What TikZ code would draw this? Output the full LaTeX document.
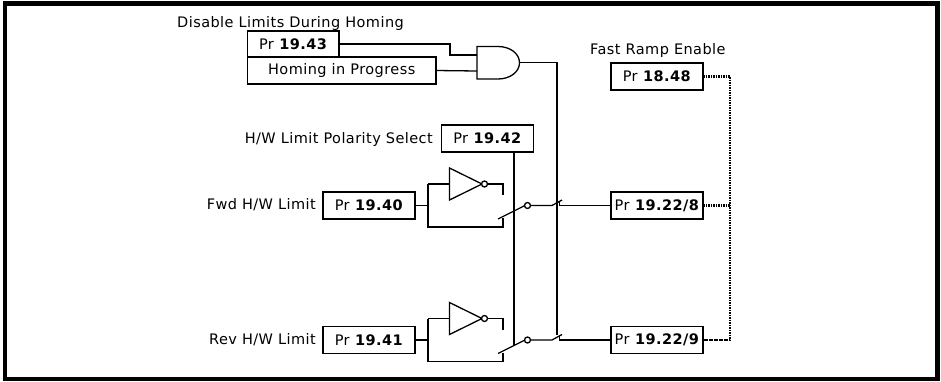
\documentclass[tikz,border=0pt]{standalone}
\usepackage{fontspec}
\setmainfont[LetterSpace=3]{DejaVu Sans}
\tikzset{
  wire/.style={draw=black,line width=1.3pt},
  prbox/.style={draw=black,line width=1.3pt,fill=white,minimum width=92pt,minimum height=27pt,inner sep=0pt,outer sep=0pt,font=\fontsize{14.5}{16}\selectfont,anchor=north west},
  lbl/.style={inner sep=0pt,font=\fontsize{14.5}{16}\selectfont},
  dotw/.style={draw=black,line width=2.6pt,dash pattern=on 1.6pt off 0.9pt},
  bub/.style={draw=black,line width=1.3pt,fill=white,circle,minimum size=6pt,inner sep=0pt,outer sep=0pt}
}
\begin{document}
\begin{tikzpicture}[x=1pt,y=-1pt]
\useasboundingbox (0,0) rectangle (941,381);
\fill[white] (0,0) rectangle (941,381);
\draw[line width=4.5pt] (5,3.5) rectangle (937.5,379);
% labels
\node[lbl,anchor=west] at (177,23) {Disable Limits During Homing};
\node[lbl,anchor=east] at (433,139) {H/W Limit Polarity Select};
\node[lbl,anchor=east] at (316,205) {Fwd H/W Limit};
\node[lbl,anchor=east] at (316,339.5) {Rev H/W Limit};
\node[lbl,anchor=west] at (590,50) {Fast Ramp Enable};
% boxes
\node[prbox,minimum width=91.5pt,minimum height=26pt] (p43) at (247.5,31) {Pr \textbf{19.43}};
\node[prbox,minimum width=188.5pt] (hip) at (247.5,57) {Homing in Progress};
\node[prbox] (p42) at (441.5,125) {Pr \textbf{19.42}};
\node[prbox] (p40) at (323,192) {Pr \textbf{19.40}};
\node[prbox] (p41) at (323,326.5) {Pr \textbf{19.41}};
\node[prbox] (p48) at (611,63) {Pr \textbf{18.48}};
\node[prbox] (p8) at (611,192) {Pr \textbf{19.22/8}};
\node[prbox] (p9) at (611,326.5) {Pr \textbf{19.22/9}};
% AND gate
\draw[wire,fill=white] (477,46.5) -- (498,46.5) .. controls (510,46.5) and (519.5,53.5) .. (519.5,62.75) .. controls (519.5,72) and (510,79) .. (498,79) -- (477,79) -- cycle;
\coordinate (andout) at (519.5,62.5);
\draw[wire] (p43.east) -- (450,44) |- (477,55);
\draw[wire] (hip.east) -- (477,71);
\draw[wire] (andout) -- (557,62.5) -- (557,335);
\coordinate (pol) at (514,152);
\coordinate (polend) at (514,345);
\draw[wire] (pol) -- (polend);
% switches
\foreach \n/\y/\pa/\pb in {f/205.5/p40/p8, r/340/p41/p9}{
  \begin{scope}[shift={(0,\y)}]
  \coordinate (j\n) at (428,0);
  \draw[wire] (\pa.east) -- (j\n);
  \draw[wire] (428,-21.5) -- (428,21.5) -- (503,21.5) -- (503,12.5);
  \draw[wire] (428,-21.5) -- (449.5,-21.5);
  \draw[wire] (449.5,-37.5) -- (449.5,-5.5) -- (482,-21.5) -- cycle;
  \draw[wire] (487,-21.5) -- (503,-21.5) -- (503,-10.5);
  \node[bub] (b\n) at (484.5,-21.5) {};
  \draw[wire] (498,13.5) -- (525,0);
  \node[bub] (c\n) at (527.5,0) {};
  \draw[wire] (c\n.east) -- (552,0) -- (562,-5.5);
  \draw[wire] (559.5,-5) -- (559.5,0) -- (\pb.west);
  \end{scope}
}
% dotted
\coordinate (dtop) at (730,76.5);
\draw[dotw] (p48.east) -- (dtop) -- (730,340) -- (p9.east);
\draw[dotw] (p8.east) -- (730,205.5);
\end{tikzpicture}
\end{document}
